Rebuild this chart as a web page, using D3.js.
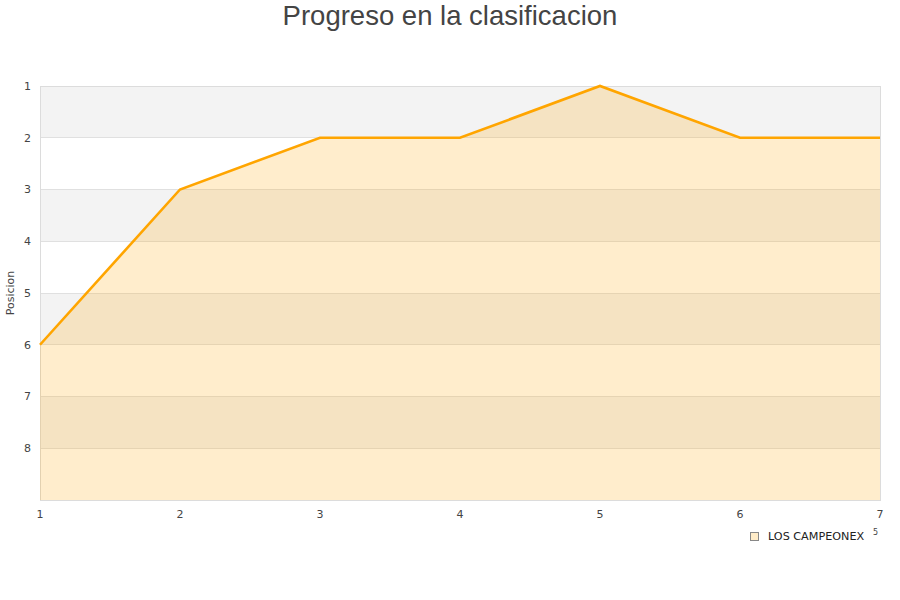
<!DOCTYPE html>
<html><head><meta charset="utf-8">
<script src="https://cdn.jsdelivr.net/npm/d3@7"></script>
<style>body{margin:0;background:#fff}</style>
</head><body><svg id="c" width="900" height="600"></svg>
<script>
const jornadas = [1,2,3,4,5,6,7];
const posiciones = [6,3,2,2,1,2,2];
const yTicks = [1,2,3,4,5,6,7,8];
const seriesName = "LOS CAMPEONEX";
const title = "Progreso en la clasificacion";
const yLabel = "Posicion";

const svg = d3.select("#c");
const L=40,R=880,T=86,B=500;
const x = d3.scaleLinear().domain([1,7]).range([L,R]);
const y = d3.scaleLinear().domain([1,9]).range([T,B]);

const bands=[1,3,5,7];
svg.selectAll("rect.band").data(bands).enter().append("rect")
  .attr("x",L).attr("width",R-L).attr("y",d=>y(d)).attr("height",d=>y(d+1)-y(d))
  .attr("fill","#f3f3f3");
svg.selectAll("line.g").data(d3.range(1,10)).enter().append("line")
  .attr("x1",L).attr("x2",R).attr("y1",d=>y(d)).attr("y2",d=>y(d))
  .attr("stroke","#e0e0e0").attr("stroke-width",1).attr("shape-rendering","crispEdges");
svg.append("rect").attr("x",L).attr("y",T).attr("width",R-L).attr("height",B-T)
  .attr("fill","none").attr("stroke","#dcdcdc").attr("shape-rendering","crispEdges");

const data = jornadas.map((j,i)=>({j,p:posiciones[i]}));
svg.append("path").datum(data)
  .attr("d",d3.area().x(d=>x(d.j)).y0(y(9)).y1(d=>y(d.p)))
  .attr("fill","#ffa500").attr("fill-opacity",0.2);
svg.append("path").datum(data)
  .attr("d",d3.line().x(d=>x(d.j)).y(d=>y(d.p)))
  .attr("fill","none").attr("stroke","#ffa500").attr("stroke-width",2.6);

const font="DejaVu Sans, sans-serif";
svg.selectAll("text.yt").data(yTicks).enter().append("text")
  .attr("x",31).attr("y",d=>y(d)).attr("dy","0.35em").attr("text-anchor","end")
  .attr("font-family",font).attr("font-size",11).attr("fill","#444").text(d=>d);
svg.selectAll("text.xt").data(jornadas).enter().append("text")
  .attr("x",d=>x(d)).attr("y",518).attr("text-anchor","middle")
  .attr("font-family",font).attr("font-size",11).attr("fill","#444").text(d=>d);
svg.append("text").attr("transform","translate(14,293) rotate(-90)").attr("text-anchor","middle")
  .attr("font-family",font).attr("font-size",11).attr("fill","#444").text(yLabel);
svg.append("text").attr("x",450).attr("y",25).attr("text-anchor","middle")
  .attr("font-family","Liberation Sans, Arial, sans-serif").attr("font-size",27.5).attr("fill","#444").text(title);

svg.append("rect").attr("x",750.5).attr("y",532.5).attr("width",8).attr("height",8)
  .attr("fill","#ffecc8").attr("stroke","#888");
svg.append("text").attr("x",768).attr("y",540).attr("font-family",font).attr("font-size",11.2)
  .attr("fill","#222").text(seriesName);
svg.append("text").attr("x",873).attr("y",535).attr("font-family",font).attr("font-size",8)
  .attr("fill","#444").text("5");
</script></body></html>
